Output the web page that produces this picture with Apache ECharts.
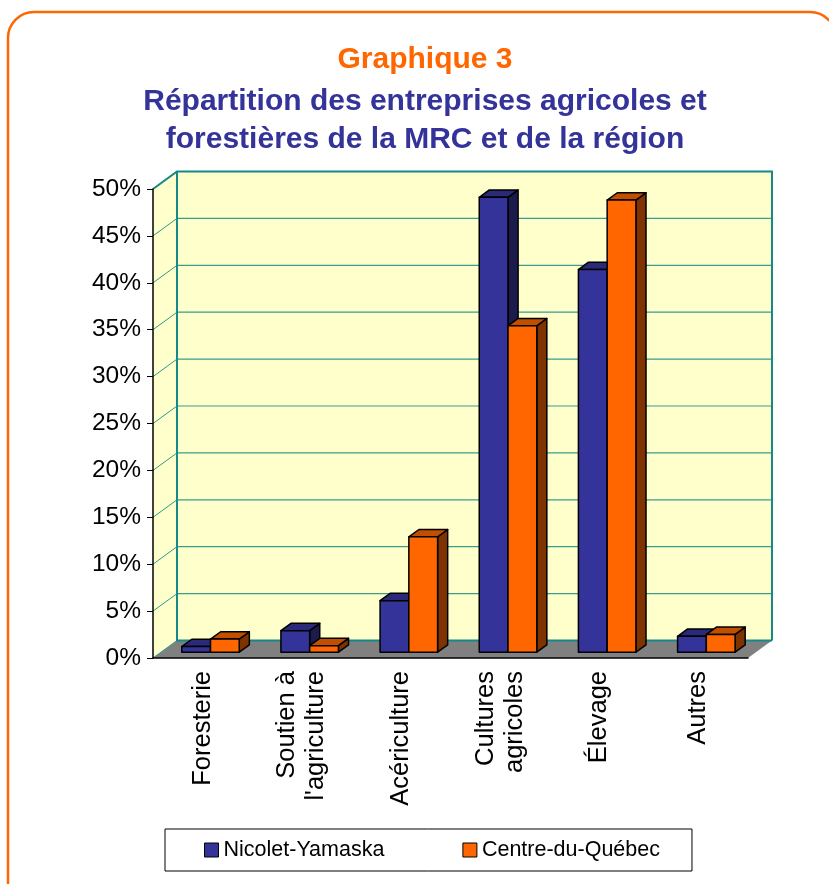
<!DOCTYPE html>
<html>
<head>
<meta charset="utf-8">
<script src="https://cdn.jsdelivr.net/npm/echarts@6/dist/echarts.min.js"></script>
<style>
  html, body { margin: 0; padding: 0; background: #ffffff; }
  #main { width: 829px; height: 884px; }
</style>
</head>
<body>
<div id="main"></div>
<script>
// données
var categories = ["Foresterie", "Soutien à\nl'agriculture", "Acériculture", "Cultures\nagricoles", "Élevage", "Autres"];
var nicolet = [0.6, 2.3, 5.5, 48.5, 40.8, 1.7];
var centre = [1.4, 0.7, 12.3, 34.8, 48.2, 1.9];
var yTicks = [0, 5, 10, 15, 20, 25, 30, 35, 40, 45, 50];

var FONT = "Liberation Sans, Arial, sans-serif";
// décalage de profondeur (effet 3D)
var DX = 24, DY = -17.5;
var D0 = 0.33, BD = 0.42;

var chartDom = document.getElementById("main");
var myChart = echarts.init(chartDom);

function pts(list) {
  return list.map(function (p) { return [p[0], p[1]]; });
}

// murs, sol et quadrillage
function renderWalls(params, api) {
  var cs = params.coordSys;
  var x = cs.x, y = cs.y, w = cs.width, h = cs.height;
  var children = [];
  children.push({
    type: "polygon",
    shape: { points: pts([[x + DX, y + DY], [x + w + DX, y + DY], [x + w + DX, y + h + DY], [x + DX, y + h + DY]]) },
    style: { fill: "#ffffcc" }
  });
  children.push({
    type: "polygon",
    shape: { points: pts([[x, y], [x + DX, y + DY], [x + DX, y + h + DY], [x, y + h]]) },
    style: { fill: "#ffffcc" }
  });
  children.push({
    type: "polygon",
    shape: { points: pts([[x, y + h], [x + DX, y + h + DY], [x + w + DX, y + h + DY], [x + w, y + h]]) },
    style: { fill: "#808080" }
  });
  yTicks.forEach(function (v) {
    var p = api.coord([0, v]);
    var yy = p[1];
    children.push({
      type: "line",
      shape: { x1: x, y1: yy, x2: x + DX, y2: yy + DY },
      style: { stroke: "#2a9a90", lineWidth: 1 }
    });
    if (v > 0 && v < 50) {
      children.push({
        type: "line",
        shape: { x1: x + DX, y1: yy + DY, x2: x + w + DX, y2: yy + DY },
        style: { stroke: "#3a9c8c", lineWidth: 1.2 }
      });
    }
  });
  // bords du mur du fond
  children.push({
    type: "polyline",
    shape: { points: pts([[x, y], [x + DX, y + DY], [x + w + DX, y + DY], [x + w + DX, y + h + DY]]) },
    style: { stroke: "#118a88", lineWidth: 2, fill: null }
  });
  children.push({
    type: "polyline",
    shape: { points: pts([[x + DX, y + DY], [x + DX, y + h + DY], [x + w + DX, y + h + DY]]) },
    style: { stroke: "#118a88", lineWidth: 2, fill: null }
  });
  return { type: "group", children: children };
}

function makeBars(name, data, slot, front, top, side) {
  return {
    name: name,
    type: "custom",
    coordinateSystem: "cartesian2d",
    z: 3,
    itemStyle: { color: front },
    encode: { x: 0, y: 1 },
    data: data.map(function (v, i) { return [i, v]; }),
    renderItem: function (params, api) {
      var cat = api.value(0), val = api.value(1);
      var base = api.coord([cat, 0]);
      var tp = api.coord([cat, val]);
      var W = api.size([1, 0])[0];
      var bw = W * 0.29;
      var x0 = base[0] + D0 * DX + (slot === 0 ? -bw : 0);
      var x1 = x0 + bw;
      var yb = base[1] + D0 * DY;
      var yt = tp[1] + D0 * DY;
      var ddx = BD * DX, ddy = BD * DY;
      var line = { stroke: "#000000", lineWidth: 1.5, lineJoin: "round" };
      return {
        type: "group",
        children: [
          {
            type: "polygon",
            shape: { points: [[x1, yt], [x1 + ddx, yt + ddy], [x1 + ddx, yb + ddy], [x1, yb]] },
            style: Object.assign({ fill: side }, line)
          },
          {
            type: "polygon",
            shape: { points: [[x0, yt], [x0 + ddx, yt + ddy], [x1 + ddx, yt + ddy], [x1, yt]] },
            style: Object.assign({ fill: top }, line)
          },
          {
            type: "rect",
            shape: { x: x0, y: yt, width: bw, height: yb - yt },
            style: Object.assign({ fill: front }, line)
          }
        ]
      };
    }
  };
}

var option = {
  animation: false,
  title: {
    text: "Graphique 3",
    subtext: "Répartition des entreprises agricoles et\nforestières de la MRC et de la région",
    left: 420,
    textAlign: "center",
    top: 40,
    itemGap: 8,
    textStyle: { fontFamily: FONT, fontSize: 30, fontWeight: "bold", color: "#ff6600" },
    subtextStyle: { fontFamily: FONT, fontSize: 30, fontWeight: "bold", color: "#333399", lineHeight: 38 }
  },
  graphic: [
    {
      type: "rect",
      silent: true,
      z: -10,
      shape: { x: 8, y: 12, width: 828, height: 920, r: 26 },
      style: { fill: null, stroke: "#ff6600", lineWidth: 2.5 }
    }
  ],
  legend: {
    data: ["Nicolet-Yamaska", "Centre-du-Québec"],
    left: 165,
    top: 829,
    padding: [10, 32, 10, 39],
    itemGap: 78,
    itemWidth: 14,
    itemHeight: 14,
    icon: "rect",
    backgroundColor: "#ffffff",
    borderColor: "#000000",
    borderWidth: 1,
    itemStyle: { borderColor: "#000000", borderWidth: 1 },
    textStyle: { fontFamily: FONT, fontSize: 21.5, color: "#000000" }
  },
  grid: {
    left: 153,
    right: 81,
    top: 189,
    bottom: 226,
    containLabel: false
  },
  xAxis: {
    type: "category",
    data: categories,
    axisLine: { lineStyle: { color: "#000000", width: 1.5 } },
    axisTick: { length: 8, lineStyle: { color: "#000000" } },
    axisLabel: {
      rotate: 90,
      margin: 13,
      interval: 0,
      fontFamily: FONT,
      fontSize: 25.5,
      color: "#000000",
      lineHeight: 29
    },
    splitLine: { show: false }
  },
  yAxis: {
    type: "value",
    min: 0,
    max: 50,
    interval: 5,
    axisLine: { show: true, lineStyle: { color: "#000000", width: 1.5 } },
    axisTick: { show: true, length: 6, lineStyle: { color: "#000000" } },
    axisLabel: {
      formatter: "{value}%",
      margin: 12,
      fontFamily: FONT,
      fontSize: 24.5,
      color: "#000000"
    },
    splitLine: { show: false }
  },
  series: [
    {
      name: "fond",
      type: "custom",
      coordinateSystem: "cartesian2d",
      z: -1,
      silent: true,
      data: [[0, 0]],
      renderItem: renderWalls
    },
    makeBars("Nicolet-Yamaska", nicolet, 0, "#333399", "#2a2a78", "#1c1c4c"),
    makeBars("Centre-du-Québec", centre, 1, "#ff6600", "#c24e00", "#7f3300")
  ]
};

myChart.setOption(option);
</script>
</body>
</html>
